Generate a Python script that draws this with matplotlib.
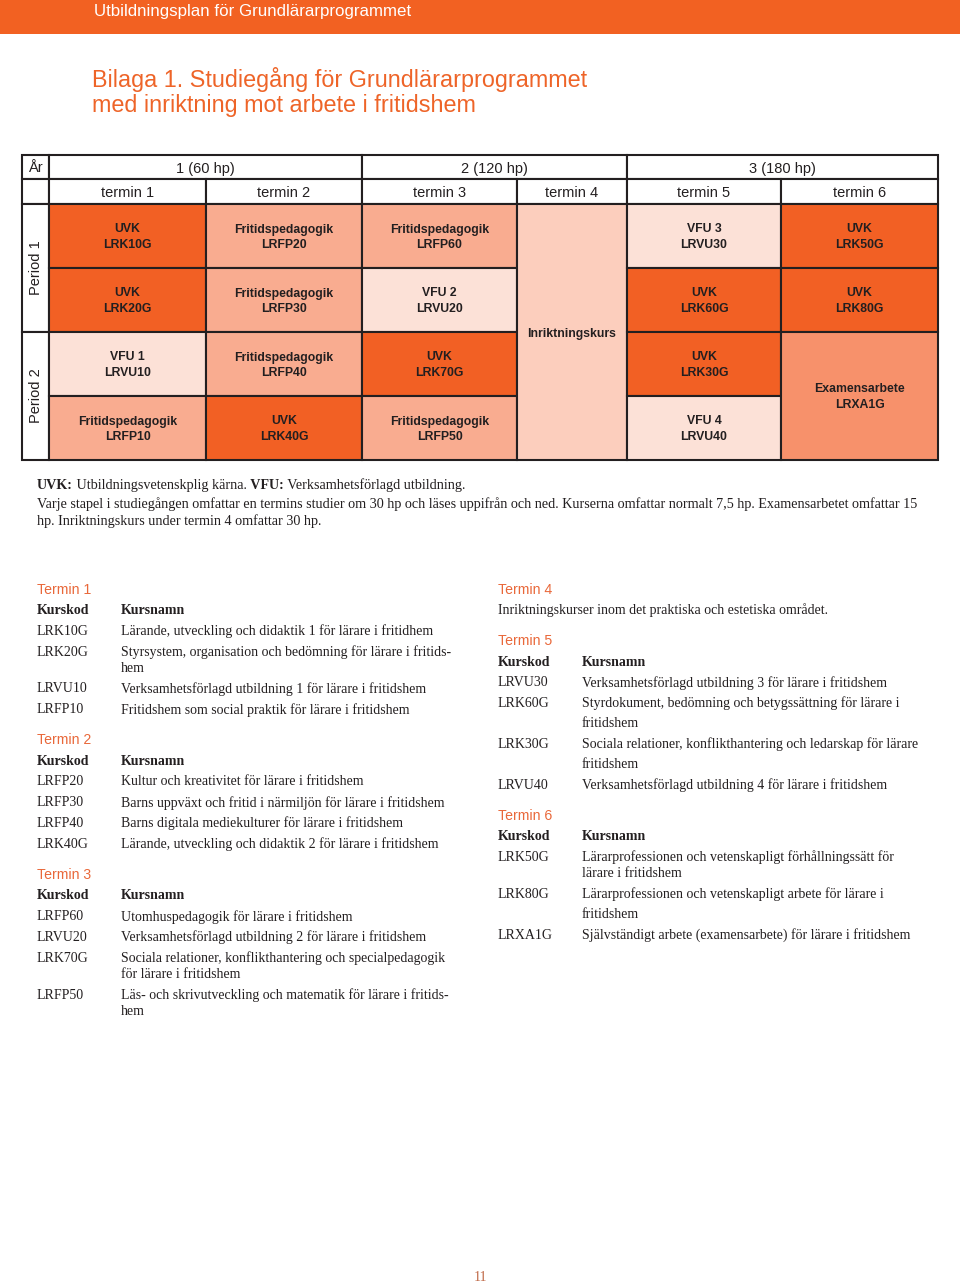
import matplotlib.pyplot as plt
from matplotlib.patches import Rectangle

# ---- page texts ----
header_text = 'Utbildningsplan för Grundlärarprogrammet'
title_lines = ['Bilaga 1. Studiegång för Grundlärarprogrammet',
               'med inriktning mot arbete i fritidshem']
page_number = '11'

# ---- study plan grid ----
years = ['1 (60 hp)', '2 (120 hp)', '3 (180 hp)']
terms = ['termin 1', 'termin 2', 'termin 3', 'termin 4', 'termin 5', 'termin 6']
periods = ['Period 1', 'Period 2']

# blocks per term, top to bottom: (subject, course code, quarter slots spanned)
term1_blocks = [('UVK', 'LRK10G', 1), ('UVK', 'LRK20G', 1),
                ('VFU 1', 'LRVU10', 1), ('Fritidspedagogik', 'LRFP10', 1)]
term2_blocks = [('Fritidspedagogik', 'LRFP20', 1), ('Fritidspedagogik', 'LRFP30', 1),
                ('Fritidspedagogik', 'LRFP40', 1), ('UVK', 'LRK40G', 1)]
term3_blocks = [('Fritidspedagogik', 'LRFP60', 1), ('VFU 2', 'LRVU20', 1),
                ('UVK', 'LRK70G', 1), ('Fritidspedagogik', 'LRFP50', 1)]
term4_blocks = [('Inriktningskurs', '', 4)]
term5_blocks = [('VFU 3', 'LRVU30', 1), ('UVK', 'LRK60G', 1),
                ('UVK', 'LRK30G', 1), ('VFU 4', 'LRVU40', 1)]
term6_blocks = [('UVK', 'LRK50G', 1), ('UVK', 'LRK80G', 1),
                ('Examensarbete', 'LRXA1G', 2)]
all_blocks = [term1_blocks, term2_blocks, term3_blocks,
              term4_blocks, term5_blocks, term6_blocks]

# ---- notes under the grid ----
note_line1 = [('UVK:', True), (' Utbildningsvetenskplig kärna.', False),
              (' VFU:', True), (' Verksamhetsförlagd utbildning.', False)]
note_lines = ['Varje stapel i studiegången omfattar en termins studier om 30 hp och läses '
              'uppifrån och ned. Kurserna omfattar normalt 7,5 hp. Examensarbetet omfattar 15',
              'hp. Inriktningskurs under termin 4 omfattar 30 hp.']

# ---- course lists ----
term1_courses = [('LRK10G', 'Lärande, utveckling och didaktik 1 för lärare i fritidhem'),
                 ('LRK20G', 'Styrsystem, organisation och bedömning för lärare i fritids-\nhem'),
                 ('LRVU10', 'Verksamhetsförlagd utbildning 1 för lärare i fritidshem'),
                 ('LRFP10', 'Fritidshem som social praktik för lärare i fritidshem')]
term2_courses = [('LRFP20', 'Kultur och kreativitet för lärare i fritidshem'),
                 ('LRFP30', 'Barns uppväxt och fritid i närmiljön för lärare i fritidshem'),
                 ('LRFP40', 'Barns digitala mediekulturer för lärare i fritidshem'),
                 ('LRK40G', 'Lärande, utveckling och didaktik 2 för lärare i fritidshem')]
term3_courses = [('LRFP60', 'Utomhuspedagogik för lärare i fritidshem'),
                 ('LRVU20', 'Verksamhetsförlagd utbildning 2 för lärare i fritidshem'),
                 ('LRK70G', 'Sociala relationer, konflikthantering och specialpedagogik\nför lärare i fritidshem'),
                 ('LRFP50', 'Läs- och skrivutveckling och matematik för lärare i fritids-\nhem')]
term4_text = 'Inriktningskurser inom det praktiska och estetiska området.'
term5_courses = [('LRVU30', 'Verksamhetsförlagd utbildning 3 för lärare i fritidshem'),
                 ('LRK60G', 'Styrdokument, bedömning och betygssättning för lärare i\nfritidshem'),
                 ('LRK30G', 'Sociala relationer, konflikthantering och ledarskap för lärare\nfritidshem'),
                 ('LRVU40', 'Verksamhetsförlagd utbildning 4 för lärare i fritidshem')]
term6_courses = [('LRK50G', 'Lärarprofessionen och vetenskapligt förhållningssätt för\nlärare i fritidshem'),
                 ('LRK80G', 'Lärarprofessionen och vetenskapligt arbete för lärare i\nfritidshem'),
                 ('LRXA1G', 'Självständigt arbete (examensarbete) för lärare i fritidshem')]

# ---- styles / layout ----
ORANGE = '#F26122'
TITLE_ORANGE = '#EE6428'
HEAD_ORANGE = '#E9683A'
INK = '#231F20'
SANS = 'Liberation Sans'
SERIF = 'Liberation Serif'

def block_color(subject):
    if subject == 'UVK':
        return '#F26024'
    if subject == 'Fritidspedagogik':
        return '#F9AC90'
    if subject.startswith('VFU'):
        return '#FCE1D7'
    if subject == 'Inriktningskurs':
        return '#FCCEBD'
    return '#F7916B'

col_x = [49, 206, 362, 517, 627, 781, 938]
row_y = [204, 268, 332, 396, 460]
left_x = 22
top_y, mid_y = 155, 179
LW = 1.5

fig = plt.figure(figsize=(9.6, 12.83), dpi=100)
ax = fig.add_axes([0, 0, 1, 1])
ax.set_xlim(0, 960)
ax.set_ylim(1283, 0)
ax.axis('off')

# header bar and title
ax.add_patch(Rectangle((0, 0), 960, 34, color=ORANGE, lw=0))
ax.text(94, 10, header_text, color='white', fontsize=12.2, family=SANS,
        va='center_baseline')
for i, line in enumerate(title_lines):
    ax.text(92, 77 + i * 26, line, color=TITLE_ORANGE, fontsize=16.8,
            family=SANS, va='center_baseline')


def box(x0, y0, x1, y1, fc='white'):
    ax.add_patch(Rectangle((x0, y0), x1 - x0, y1 - y0, facecolor=fc,
                           edgecolor=INK, lw=LW))


# header rows
box(left_x, top_y, col_x[0], mid_y)
ax.text((left_x + col_x[0]) / 2, (top_y + mid_y) / 2, 'År', ha='center',
        va='center_baseline', fontsize=10.5, family=SANS, color=INK)
for i, yr in enumerate(years):
    x0, x1 = col_x[2 * i], col_x[2 * i + 2]
    box(x0, top_y, x1, mid_y)
    ax.text((x0 + x1) / 2, (top_y + mid_y) / 2, yr, ha='center',
            va='center_baseline', fontsize=10.5, family=SANS, color=INK)
box(left_x, mid_y, col_x[0], row_y[0])
for j, t in enumerate(terms):
    x0, x1 = col_x[j], col_x[j + 1]
    box(x0, mid_y, x1, row_y[0])
    ax.text((x0 + x1) / 2, (mid_y + row_y[0]) / 2, t, ha='center',
            va='center_baseline', fontsize=10.5, family=SANS, color=INK)

# period column
for p, name in enumerate(periods):
    y0, y1 = row_y[2 * p], row_y[2 * p + 2]
    box(left_x, y0, col_x[0], y1)
    ax.text((left_x + col_x[0]) / 2 + 1, (y0 + y1) / 2, name, rotation=90,
            ha='center', va='center', fontsize=10.5, family=SANS, color=INK)

# course blocks
for j, blocks in enumerate(all_blocks):
    x0, x1 = col_x[j], col_x[j + 1]
    slot = 0
    for subject, code, span in blocks:
        y0, y1 = row_y[slot], row_y[slot + span]
        box(x0, y0, x1, y1, fc=block_color(subject))
        cx, cy = (x0 + x1) / 2, (y0 + y1) / 2
        if code:
            ax.text(cx, cy - 8, subject, ha='center', va='center_baseline',
                    fontsize=8.8, family=SANS, weight='bold', color=INK)
            ax.text(cx, cy + 8, code, ha='center', va='center_baseline',
                    fontsize=8.8, family=SANS, weight='bold', color=INK)
        else:
            ax.text(cx, cy, subject, ha='center', va='center_baseline',
                    fontsize=8.8, family=SANS, weight='bold', color=INK)
        slot += span

# notes
prev = None
for seg, bold in note_line1:
    kw = dict(fontsize=10.2, family=SERIF, color=INK,
              weight='bold' if bold else 'normal', va='bottom', ha='left')
    if prev is None:
        prev = ax.annotate(seg, xy=(37, 492), xycoords='data', **kw)
    else:
        prev = ax.annotate(seg, xy=(1, 0), xycoords=prev, **kw)
for i, line in enumerate(note_lines):
    ax.text(37, 503 + i * 17, line, fontsize=10.2, family=SERIF, color=INK,
            va='center_baseline')

# course lists
ROW = 20.8
WRAP = 16
LOOSE_WRAP = 20
GAP = 30.5
loose = {'LRK60G', 'LRK30G', 'LRK80G'}


def section(x, y, heading, courses=None, text=None):
    ax.text(x, y, heading, color=HEAD_ORANGE, fontsize=10.2, family=SANS,
            va='center_baseline')
    y += 21
    if text is not None:
        ax.text(x, y, text, fontsize=10, family=SERIF, color=INK,
                va='center_baseline')
        return y + GAP
    ax.text(x, y, 'Kurskod', fontsize=10, family=SERIF, weight='bold',
            color=INK, va='center_baseline')
    ax.text(x + 84, y, 'Kursnamn', fontsize=10, family=SERIF, weight='bold',
            color=INK, va='center_baseline')
    for code, name in courses:
        y += ROW
        ax.text(x, y, code, fontsize=10, family=SERIF, color=INK,
                va='center_baseline')
        parts = name.split('\n')
        for k, part in enumerate(parts):
            if k > 0:
                y += LOOSE_WRAP if code in loose else WRAP
            ax.text(x + 84, y, part, fontsize=10, family=SERIF, color=INK,
                    va='center_baseline')
    return y + GAP


y = 588
y = section(37, y, 'Termin 1', term1_courses)
y = section(37, y, 'Termin 2', term2_courses)
y = section(37, y, 'Termin 3', term3_courses)

y = 588
y = section(498, y, 'Termin 4', text=term4_text)
y = section(498, y, 'Termin 5', term5_courses)
y = section(498, y, 'Termin 6', term6_courses)

ax.text(480, 1276, page_number, ha='center', va='center_baseline',
        fontsize=10, family=SERIF, color='#C06A48')

fig.savefig('out.png', dpi=100)
